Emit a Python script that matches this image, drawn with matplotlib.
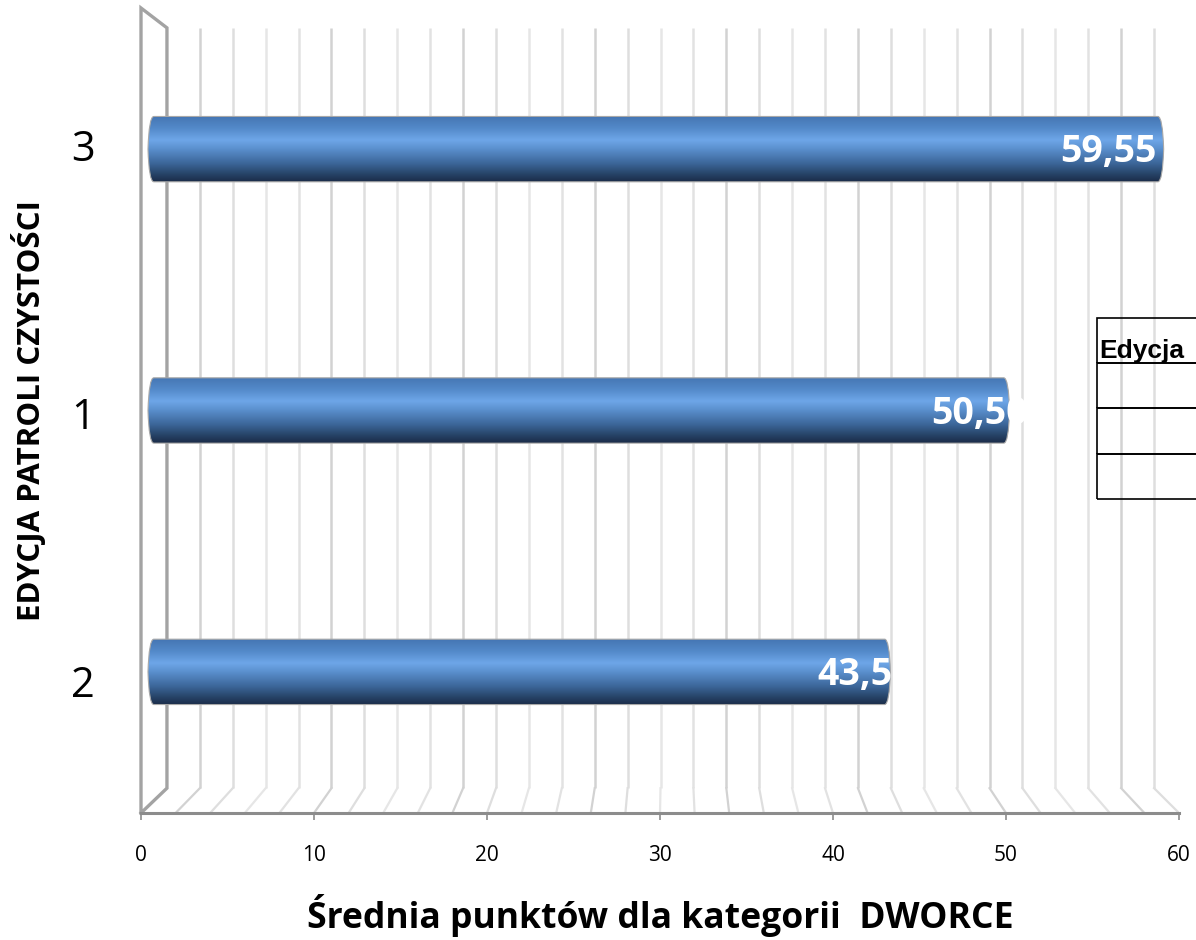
import matplotlib
matplotlib.use("Agg")
import matplotlib.pyplot as plt
import numpy as np
from matplotlib.colors import LinearSegmentedColormap
from matplotlib.path import Path
from matplotlib.patches import PathPatch

categories = ["2", "1", "3"]
values = [43.5, 50.5, 59.55]
value_labels = ["43,50", "50,50", "59,55"]
x_ticks = [0, 10, 20, 30, 40, 50, 60]
x_label = "Średnia punktów dla kategorii  DWORCE"
y_label = "EDYCJA PATROLI CZYSTOŚCI"
table_header = "Edycja"
table_rows = 4

W, H = 1196, 940
FONT = ["Open Sans", "DejaVu Sans"]
plt.rcParams["font.family"] = FONT

fig = plt.figure(figsize=(W / 100, H / 100), dpi=100)
# axes box in pixels: 141..1179 across, 8..813 down
ax = fig.add_axes([141 / W, 1 - 813 / H, 1038 / W, 805 / H])
ax.set_facecolor("none")

y = np.arange(len(categories))
bar_h = 0.25
ymin, ymax = -0.54, 2.54

# fake 3d: the back wall and the bars are shifted/scaled versions of the front scale
back = lambda v: 1.5 + 0.951 * v
bar_x = lambda v: 0.46 + 0.984 * v
back_lo, back_hi = -0.445, 2.464

grid_colors = ["#e2e2e2", "#d2d2d2", "#dedede", "#e6e6e6"]
for i, v in enumerate(np.arange(0, 62, 2)):
    if i == 0:
        continue
    c = grid_colors[i % 4]
    ax.plot([back(v)] * 2, [back_lo, back_hi], color=c, lw=1.8, zorder=1, solid_capstyle="butt")
    ax.plot([v, back(v)], [ymin, back_lo], color=c, lw=1.6, zorder=1)

# side wall
wall = "#a3a3a3"
ax.plot([0, 0, back(0), back(0), 0], [ymin, ymax, back_hi, back_lo, ymin],
        color=wall, lw=2.4, zorder=2, clip_on=False, solid_joinstyle="miter")

# cylinder shading for the bars
cmap = LinearSegmentedColormap.from_list("cyl", [
    (0.0, "#4576b3"), (0.18, "#5389c9"), (0.36, "#6ea6e8"), (0.5, "#5a8fcd"),
    (0.72, "#3c6699"), (0.88, "#274468"), (1.0, "#1b2c48")])
shade = np.linspace(0, 1, 128).reshape(-1, 1)

for yi, v in zip(y, values):
    x0, x1 = bar_x(0), bar_x(v)
    y0, y1 = yi - bar_h / 2, yi + bar_h / 2
    e = 0.28
    verts = [(x0 + e, y0), (x1 - e, y0), (x1, y0), (x1 + e * 0.2, yi), (x1, y1), (x1 - e, y1),
             (x0 + e, y1), (x0, y1), (x0 - e * 0.2, yi), (x0, y0), (x0 + e, y0)]
    codes = [Path.MOVETO, Path.LINETO, Path.CURVE3, Path.CURVE3, Path.CURVE3, Path.CURVE3,
             Path.LINETO, Path.CURVE3, Path.CURVE3, Path.CURVE3, Path.CURVE3]
    ax.add_patch(PathPatch(Path(verts, codes), fc="none", ec="#a8a8a8", lw=0.8, zorder=4))
    im = ax.imshow(shade, cmap=cmap, extent=[x0 - 1, x1 + 1, y0, y1], aspect="auto",
                   origin="upper", zorder=3, interpolation="bilinear")
    im.set_clip_path(PathPatch(Path(verts, codes), transform=ax.transData))

for yi, v, lab, off in zip(y, values, value_labels, [-4.15, -4.45, -5.9]):
    ax.text(bar_x(v) + off, yi - 0.012, lab, color="white", fontsize=27, fontweight="bold",
            ha="left", va="center", zorder=6)

ax.set_xlim(0, 60)
ax.set_ylim(ymin, ymax)

for s in ["top", "right", "left"]:
    ax.spines[s].set_visible(False)
ax.spines["bottom"].set_color("#8c8c8c")
ax.spines["bottom"].set_linewidth(2.2)
ax.set_zorder(2)

ax.set_xticks(x_ticks)
ax.tick_params(axis="x", length=5, width=1.2, color="#8c8c8c", labelsize=15, pad=18, labelcolor="black")
ax.set_yticks(y + np.array([-0.034, -0.01, 0.015]))
ax.set_yticklabels(categories)
ax.tick_params(axis="y", length=0, labelsize=30, pad=33)

ax.set_xlabel(x_label, fontsize=25.6, fontweight="bold", va="center")
ax.set_ylabel(y_label, fontsize=22.5, fontweight="bold", va="center")
ax.yaxis.set_label_coords(-0.107, 0.5)
ax.xaxis.set_label_coords(0.5, -0.127)

# small table that hangs off the right edge
tab = ax.table(cellText=[[""]] * table_rows, bbox=[0.921, 0.39, 0.13, 0.225], zorder=5)
for cell in tab.get_celld().values():
    cell.set_facecolor("none")
    cell.set_edgecolor("black")
    cell.set_linewidth(1.2)
    cell.set_clip_on(False)
ax.text(0.923, 0.565, table_header, transform=ax.transAxes, fontsize=19, fontweight="bold",
        family="Liberation Sans", ha="left", va="baseline", zorder=6)

fig.savefig("out.png", dpi=100)
